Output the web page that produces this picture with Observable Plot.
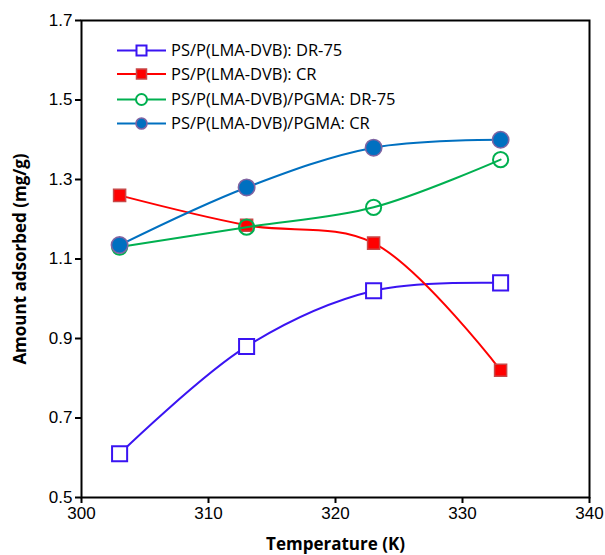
<!DOCTYPE html>
<html><head><meta charset="utf-8">
<script src="https://cdn.jsdelivr.net/npm/d3@7"></script>
<script src="https://cdn.jsdelivr.net/npm/@observablehq/plot@0.6"></script>
<style>
body{margin:0;background:#fff}
#wrap{position:relative;width:605px;height:555px}
#legend{position:absolute;left:0;top:0}
</style>
</head><body><div id="wrap"></div>
<script>
const temps = [303, 313, 323, 333];
const psDR75 = [0.61, 0.88, 1.02, 1.04];
const psCR = [1.26, 1.185, 1.14, 0.82];
const pgmaDR75 = [1.13, 1.18, 1.23, 1.35];
const pgmaCR = [1.135, 1.28, 1.38, 1.40];
const seriesNames = ["PS/P(LMA-DVB): DR-75", "PS/P(LMA-DVB): CR", "PS/P(LMA-DVB)/PGMA: DR-75", "PS/P(LMA-DVB)/PGMA: CR"];
const xTicks = [300, 310, 320, 330, 340];
const yTicks = [0.5, 0.7, 0.9, 1.1, 1.3, 1.5, 1.7];

const seriesValues = [psDR75, psCR, pgmaDR75, pgmaCR];
const looks = [
  {line: "#3a14f2", symbol: "square", r: 8.5, fill: "white", stroke: "#3a14f2", sw: 2},
  {line: "#ff0000", symbol: "square", r: 6.8, fill: "#ff0000", stroke: "#c84848", sw: 1.5},
  {line: "#00b050", symbol: "circle", r: 7.6, fill: "none", stroke: "#00b050", sw: 2},
  {line: "#0070c0", symbol: "circle", r: 8.2, fill: "#0070c0", stroke: "#8064a2", sw: 1.6}
];
const data = seriesValues.map(vals => temps.map((t, i) => ({t, v: vals[i]})));

const marks = [];
data.forEach((d, k) => {
  const L = looks[k];
  marks.push(Plot.line(d, {x: "t", y: "v", stroke: L.line, strokeWidth: 2, curve: "catmull-rom"}));
  marks.push(Plot.dot(d, {x: "t", y: "v", symbol: L.symbol, r: L.r, fill: L.fill, stroke: L.stroke, strokeWidth: L.sw}));
});

const chart = Plot.plot({
  width: 605, height: 555,
  marginLeft: 81, marginRight: 16, marginTop: 20, marginBottom: 58,
  x: {domain: [300, 340]},
  y: {domain: [0.5, 1.7]},
  style: {fontFamily: "'Liberation Sans', Arial, sans-serif", fontSize: "17px", color: "black", background: "white"},
  marks: [
    Plot.axisX({ticks: xTicks, tickSize: 6, tickPadding: 3, strokeWidth: 2, tickFormat: d => String(d), fontSize: 17, label: null}),
    Plot.axisY({ticks: yTicks, tickSize: 6, tickPadding: 3, strokeWidth: 2, tickFormat: d => d.toFixed(1), fontSize: 17, label: null}),
    Plot.axisX({ticks: [], label: "Temperature (K)", labelAnchor: "center", labelArrow: "none", labelOffset: 52, fontFamily: "'Open Sans', sans-serif", fontWeight: "bold", fontSize: 17}),
    Plot.axisY({ticks: [], label: "Amount adsorbed (mg/g)", labelAnchor: "center", labelArrow: "none", labelOffset: 68, fontFamily: "'Open Sans', sans-serif", fontWeight: "bold", fontSize: 17}),
    Plot.frame({stroke: "black", strokeWidth: 2}),
    ...marks
  ]
});
document.getElementById("wrap").appendChild(chart);

// legend
const lg = d3.select("#wrap").append("svg").attr("id", "legend").attr("width", 605).attr("height", 555)
  .style("pointer-events", "none");
const rowY = [50.5, 74, 99.5, 123.5];
seriesNames.forEach((name, k) => {
  const L = looks[k];
  const g = lg.append("g").attr("transform", `translate(0,${rowY[k]})`);
  g.append("line").attr("x1", 117).attr("x2", 166).attr("y1", 0).attr("y2", 0).attr("stroke", L.line).attr("stroke-width", 2);
  const sym = L.symbol === "square" ? d3.symbolSquare : d3.symbolCircle;
  const size = L.symbol === "square" ? 100 : 95;
  g.append("path").attr("d", d3.symbol(sym, size)()).attr("transform", "translate(141.5,0)")
    .attr("fill", L.fill === "none" ? "white" : L.fill).attr("stroke", L.stroke).attr("stroke-width", L.sw);
  g.append("text").attr("x", 171).attr("y", 0).attr("dy", "0.35em")
    .attr("font-family", "'Open Sans', sans-serif").attr("font-size", 16.5).attr("fill", "black").text(name);
});
</script>
</body></html>
